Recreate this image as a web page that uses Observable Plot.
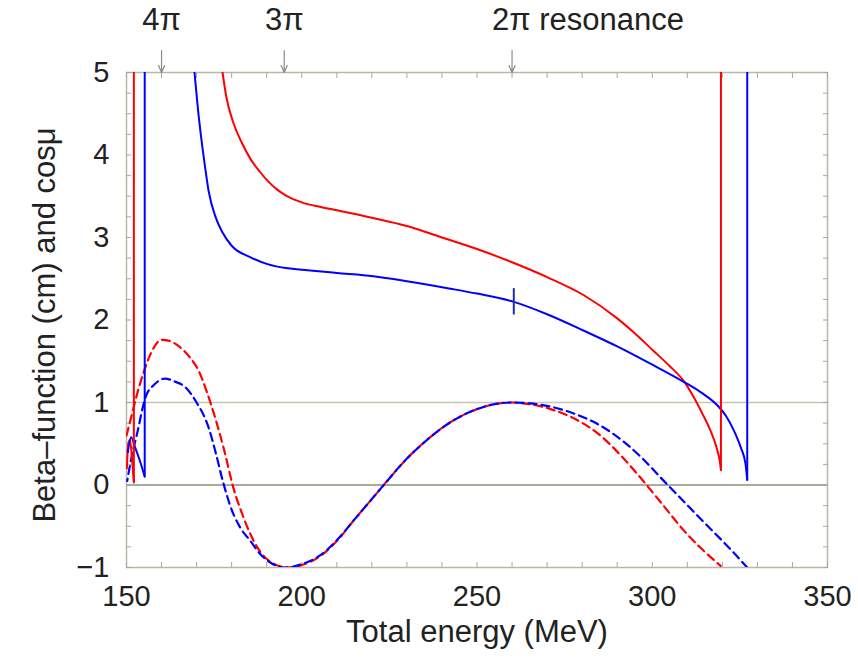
<!DOCTYPE html>
<html><head><meta charset="utf-8">
<script src="https://cdn.jsdelivr.net/npm/d3@7"></script>
<script src="https://cdn.jsdelivr.net/npm/@observablehq/plot@0.6"></script>
<style>body{margin:0;background:#fff}</style>
</head><body><div id="chart"></div>
<script>
// ---- data ----
const xTicks = [150, 200, 250, 300, 350];
const yTicks = [-1, 0, 1, 2, 3, 4, 5];
const xMinorTicks = d3.range(150, 351, 10);
const yMinorTicks = d3.range(-1, 5.01, 0.25);
const refLines = [0, 1];
const seriesNames = ["red", "blue"];
const seriesColors = ["#ff2e2e", "#1e2fa8"];

const annotX = [160, 195];
const annotLabels = ["4π", "3π"];
const resonanceX = [260];
const resonanceLabel = ["2π resonance"];

// beta-function, red case (smooth parts)
const redBetaLeftX = [150.1, 150.5, 151.0, 151.6, 152.1];
const redBetaLeftY = [0.2, 0.5, 0.55, 0.3, 0.03];
const redBetaMainX = [177.4, 178.5, 180.4, 183, 185.4, 188, 190.4, 193, 195.4, 200.4, 205.4, 210, 220, 230, 240, 250, 260, 270, 280.5, 290, 295, 300, 305, 309, 311.5, 314, 316.5, 318.3, 319.3, 319.6];
const redBetaMainY = [5.0, 4.7, 4.4, 4.14, 3.95, 3.8, 3.68, 3.58, 3.51, 3.42, 3.37, 3.33, 3.24, 3.14, 3.0, 2.86, 2.70, 2.52, 2.30, 2.02, 1.84, 1.64, 1.44, 1.26, 1.09, 0.89, 0.67, 0.46, 0.28, 0.18];
// vertical jumps of the red beta-function
const redJumpX = [152.1, 319.6];
const redJumpBottom = [0.03, 0.18];

// beta-function, blue case (smooth parts)
const blueBetaLeftX = [150.4, 151.3, 152.5, 154.0, 155.2];
const blueBetaLeftY = [0.4, 0.58, 0.45, 0.27, 0.1];
const blueBetaMainX = [169.4, 170.4, 171.4, 172.4, 173.4, 175.4, 177.4, 180, 185.4, 190, 195.4, 200, 210, 220.4, 230, 242.4, 250, 260.5, 270, 280.5, 290, 299.5, 309, 314, 318.7, 321, 323.3, 325.3, 326.6, 327.1];
const blueBetaMainY = [5.0, 4.55, 4.18, 3.86, 3.57, 3.25, 3.06, 2.9, 2.76, 2.68, 2.63, 2.61, 2.57, 2.53, 2.47, 2.38, 2.32, 2.22, 2.07, 1.87, 1.68, 1.47, 1.25, 1.12, 0.96, 0.84, 0.66, 0.45, 0.26, 0.06];
// vertical jumps of the blue beta-function
const blueJumpX = [155.2, 327.1];
const blueJumpBottom = [0.1, 0.06];

// cos(mu), red case
const redCosX = [150, 151.5, 153, 155, 157, 160, 162, 165, 168, 170.4, 173, 175.4, 178, 180.4, 183, 185.4, 188, 191.4, 196, 200, 205, 210, 215, 220, 223, 230, 235, 242.4, 250, 255, 260, 265, 271, 278, 285.2, 291, 297.6, 303, 309, 314, 319.5];
const redCosY = [0.6, 0.85, 1.1, 1.38, 1.6, 1.76, 1.75, 1.68, 1.55, 1.40, 1.12, 0.8, 0.4, -0.02, -0.35, -0.6, -0.8, -0.94, -1.0, -0.97, -0.87, -0.68, -0.42, -0.17, -0.02, 0.32, 0.52, 0.76, 0.92, 0.98, 1.0, 0.98, 0.92, 0.8, 0.6, 0.36, 0.04, -0.24, -0.55, -0.77, -0.98];
// cos(mu), blue case
const blueCosX = [150.2, 151.5, 153, 155.4, 158, 161, 164, 166.4, 170, 173.4, 175.4, 177.4, 180, 182.5, 185.4, 188, 191, 195.4, 200, 205, 210, 215, 220, 223, 230, 235, 242.4, 250, 255, 260, 265, 271, 278, 285.2, 292, 297, 303.3, 309, 314.7, 321, 327.1];
const blueCosY = [0.05, 0.35, 0.62, 1.06, 1.22, 1.29, 1.25, 1.2, 1.0, 0.7, 0.4, 0.06, -0.3, -0.52, -0.68, -0.83, -0.94, -1.0, -0.96, -0.86, -0.67, -0.42, -0.17, -0.02, 0.32, 0.52, 0.76, 0.92, 0.98, 1.0, 0.99, 0.95, 0.86, 0.72, 0.52, 0.33, 0.05, -0.2, -0.45, -0.72, -1.0];

// marker on blue beta-function at the 2π resonance
const markerX = [260.5];
const markerY1 = [2.06];
const markerY2 = [2.38];

const xLabel = "Total energy (MeV)";
const yLabel = "Beta–function (cm) and cosμ";

// ---- build tables ----
function seg(xs, ys, series, part) {
  return xs.map((x, i) => ({x, y: ys[i], series, part: series + part}));
}
const betaRows = [
  ...seg(redBetaLeftX, redBetaLeftY, "red", "L"),
  ...seg(redBetaMainX, redBetaMainY, "red", "M"),
  ...seg(blueBetaLeftX, blueBetaLeftY, "blue", "L"),
  ...seg(blueBetaMainX, blueBetaMainY, "blue", "M")
];
const jumpRows = [
  ...redJumpX.map((x, i) => ({x, y1: redJumpBottom[i], series: "red"})),
  ...blueJumpX.map((x, i) => ({x, y1: blueJumpBottom[i], series: "blue"}))
];
const redCosRows = seg(redCosX, redCosY, "red", "C");
const blueCosRows = seg(blueCosX, blueCosY, "blue", "C");
const markerRows = markerX.map((x, i) => ({x, y1: markerY1[i], y2: markerY2[i]}));

const arrowShape = {
  draw(context, l) {
    context.moveTo(0, 0);
    context.lineTo(0, -l);
    context.moveTo(-3, -l + 7);
    context.lineTo(0, -l);
    context.lineTo(3, -l + 7);
  }
};
const allArrowX = [...annotX, ...resonanceX];

const fontFamily = "'Liberation Sans', Arial, Helvetica, sans-serif";
const tickGray = "#a8a898";
const blank = () => "";
const yMax = 5;

const chart = Plot.plot({
  width: 858,
  height: 660,
  marginLeft: 126,
  marginRight: 31,
  marginTop: 72,
  marginBottom: 93,
  style: {fontFamily, fontSize: "29px", color: "#222", background: "#fff"},
  x: {domain: [150, 350]},
  y: {domain: [-1, 5]},
  color: {domain: seriesNames, range: seriesColors},
  marks: [
    Plot.ruleY([refLines[1]], {stroke: "#c6c6b2", strokeWidth: 1.5}),
    Plot.ruleY([refLines[0]], {stroke: "#8e8e7c", strokeWidth: 1.5}),
    Plot.frame({stroke: "#b8b8a6", strokeWidth: 1.5}),
    Plot.axisX({anchor: "bottom", ticks: xMinorTicks, tickSize: -5, tickFormat: blank, label: null, stroke: tickGray}),
    Plot.axisX({anchor: "top", ticks: xMinorTicks, tickSize: -5, tickFormat: blank, label: null, stroke: tickGray}),
    Plot.axisY({anchor: "left", ticks: yMinorTicks, tickSize: -5, tickFormat: blank, label: null, stroke: tickGray}),
    Plot.axisY({anchor: "right", ticks: yMinorTicks, tickSize: -5, tickFormat: blank, label: null, stroke: tickGray}),
    Plot.axisX({anchor: "bottom", ticks: xTicks, tickSize: 0, tickPadding: 18, label: null, fill: "#222"}),
    Plot.axisY({anchor: "left", ticks: yTicks, tickSize: 0, tickPadding: 17, label: null, fill: "#222",
      tickFormat: d => d < 0 ? "−" + (-d) : String(d)}),
    Plot.text([xLabel], {frameAnchor: "bottom", lineAnchor: "middle", textAnchor: "middle", dy: 65, fill: "#222", fontSize: 31}),
    Plot.text([yLabel], {frameAnchor: "left", lineAnchor: "middle", textAnchor: "middle", dx: -81, dy: 5, rotate: -90, fill: "#222", fontSize: 31}),
    Plot.line(redCosRows, {x: "x", y: "y", stroke: "series", strokeWidth: 2.2, strokeDasharray: "8,5", curve: "monotone-x", clip: true}),
    Plot.line(blueCosRows, {x: "x", y: "y", stroke: "series", strokeWidth: 2.2, strokeDasharray: "8,5", strokeDashoffset: 6, curve: "monotone-x", clip: true}),
    Plot.line(betaRows, {x: "x", y: "y", z: "part", stroke: "series", strokeWidth: 2, curve: "monotone-x", clip: true}),
    Plot.ruleX(jumpRows, {x: "x", y1: "y1", y2: () => yMax, stroke: "series", strokeWidth: 2}),
    Plot.ruleX(markerRows, {x: "x", y1: "y1", y2: "y2", stroke: seriesColors[1], strokeWidth: 2}),
    Plot.vector(allArrowX, {x: d => d, y: () => yMax, length: 22, rotate: 180, anchor: "end", shape: arrowShape, stroke: "#8a8a8a", strokeWidth: 1.2}),
    Plot.text(annotLabels, {x: (d, i) => annotX[i], y: () => yMax, dy: -52, fill: "#222", fontSize: 31}),
    Plot.text(resonanceLabel, {x: (d, i) => resonanceX[i], y: () => yMax, dy: -52, dx: -20, textAnchor: "start", fill: "#222", fontSize: 31})
  ]
});
document.getElementById("chart").appendChild(chart);
</script>
</body></html>
